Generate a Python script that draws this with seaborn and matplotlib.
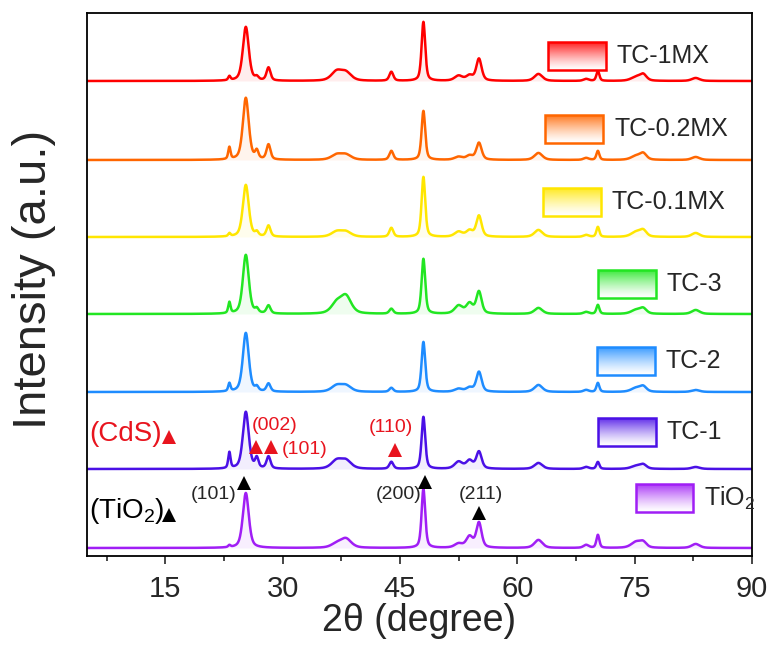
import numpy as np
import pandas as pd
import seaborn as sns
import matplotlib.pyplot as plt
import matplotlib.patches as mpatches
from matplotlib.colors import LinearSegmentedColormap

# samples, top to bottom
samples = ['TC-1MX', 'TC-0.2MX', 'TC-0.1MX', 'TC-3', 'TC-2', 'TC-1', 'TiO2']
labels = ['TC-1MX', 'TC-0.2MX', 'TC-0.1MX', 'TC-3', 'TC-2', 'TC-1', 'TiO$_2$']
colors = ['#FF0000', '#FF6600', '#FFE600', '#22E622', '#1E8CFF', '#4A10E6', '#A01EF5']
offsets = [475, 396, 319, 242, 164, 87, 8]

# reflections (2theta, fwhm)
peak_pos = [23.2, 25.3, 26.7, 28.2, 36.9, 38.1, 43.9, 48.0, 52.5, 53.9, 55.1, 62.7, 68.8, 70.3, 75.2, 76.1, 82.8]
peak_fwhm = [0.35, 0.9, 0.5, 0.6, 1.6, 1.6, 0.6, 0.55, 1.2, 1.0, 0.8, 1.2, 0.8, 0.45, 1.5, 1.0, 1.2]

# peak heights (a.u.) per sample, same order as peak_pos
h_tc1mx = [4, 54, 3, 13, 9, 8, 9, 59, 5, 5, 22, 7, 2, 10, 4, 6, 3]
h_tc02mx = [12, 62, 8, 15, 5, 5, 9, 49, 3, 4, 17, 7, 2, 9, 4, 6, 3]
h_tc01mx = [3, 52, 4, 11, 5, 5, 9, 60, 5, 6, 21, 7, 2, 10, 5, 6, 4]
h_tc3 = [11, 59, 4, 8, 10, 17, 5, 55, 8, 10, 22, 6, 2, 9, 4, 5, 4]
h_tc2 = [8, 59, 4, 8, 6, 6, 4, 50, 3, 4, 20, 7, 2, 9, 4, 5, 2]
h_tc1 = [16, 57, 10, 12, 8, 8, 7, 52, 7, 8, 17, 6, 2, 7, 3, 4, 2]
h_tio2 = [2, 55, 0, 0, 4, 9, 0, 59, 4, 11, 25, 8, 3, 13, 6, 5, 4]
heights = [h_tc1mx, h_tc02mx, h_tc01mx, h_tc3, h_tc2, h_tc1, h_tio2]

two_theta = np.arange(5, 90.01, 0.02)


def pattern(h):
    y = np.zeros_like(two_theta)
    for c, w, a in zip(peak_pos, peak_fwhm, h):
        d = (two_theta - c) ** 2 / w ** 2
        y += a * (0.5 * np.exp(-4 * np.log(2) * d) + 0.5 / (1 + 4 * d))
    return y


frames = []
for name, h, off in zip(samples, heights, offsets):
    frames.append(pd.DataFrame({'two_theta': two_theta, 'intensity': pattern(h) + off,
                                'base': off, 'sample': name}))
df = pd.concat(frames, ignore_index=True)

sns.set_style('ticks')
plt.rcParams['font.family'] = ['Liberation Sans', 'DejaVu Sans']
plt.rcParams['mathtext.fontset'] = 'custom'
plt.rcParams['mathtext.rm'] = 'Liberation Sans'
plt.rcParams['mathtext.it'] = 'Liberation Sans:italic'

fig = plt.figure(figsize=(7.74, 6.48), dpi=100)
ax = fig.add_axes([87 / 774, 1 - 556 / 648, 665 / 774, 543 / 648])

for name, col in zip(samples, colors):
    d = df[df['sample'] == name]
    ax.fill_between(d['two_theta'], d['base'], d['intensity'], color=col, alpha=0.07, lw=0)

sns.lineplot(data=df, x='two_theta', y='intensity', hue='sample', palette=dict(zip(samples, colors)),
             estimator=None, sort=False, legend=False, linewidth=1.8, ax=ax)

# legend boxes with gradient fill
box_x = [(63.9, 71.3), (63.5, 71.0), (63.3, 70.7), (70.3, 77.7), (70.2, 77.6), (70.3, 77.7), (75.2, 82.5)]
box_y = [486, 413, 340, 258, 181, 110, 44]
box_h = 28
grad = np.linspace(1, 0, 64).reshape(-1, 1)
for (x0, x1), y0, col, lab in zip(box_x, box_y, colors, labels):
    cmap = LinearSegmentedColormap.from_list('g', ['white', col])
    ax.imshow(grad ** 1.3, extent=(x0, x1, y0, y0 + box_h), cmap=cmap, vmin=0, vmax=1.15,
              aspect='auto', origin='upper', zorder=3)
    ax.add_patch(mpatches.Rectangle((x0, y0), x1 - x0, box_h, fill=False, ec=col, lw=1.8, zorder=4))
    ax.text(x1 + 1.4, y0 + box_h / 2, lab, fontsize=18, va='center', ha='left', zorder=4)

# CdS reflections
ax.text(5.25, 122, '(CdS)', color='#E8141E', fontsize=20, va='center')
ax.plot([15.5, 26.6, 28.5, 44.4], [119, 109, 109, 106], '^', color='#E8141E', ms=9.5, mew=0)
ax.text(26.0, 131, '(002)', color='#E8141E', fontsize=14, va='center')
ax.text(29.9, 107, '(101)', color='#E8141E', fontsize=14, va='center')
ax.text(41.0, 129, '(110)', color='#E8141E', fontsize=14, va='center')

# TiO2 reflections
ax.text(5.25, 45, '(TiO$_2$)', color='black', fontsize=20, va='center')
ax.plot([15.5, 25.1, 48.2, 55.1], [41, 73, 74, 43], '^', color='black', ms=9.5, mew=0)
ax.text(18.3, 62, '(101)', fontsize=14, va='center')
ax.text(41.9, 62, '(200)', fontsize=14, va='center')
ax.text(52.5, 62, '(211)', fontsize=14, va='center')

ax.set_xlim(5, 90)
ax.set_ylim(0, 543)
ax.set_xticks([15, 30, 45, 60, 75, 90])
ax.set_xticks(np.arange(7.5, 90, 15), minor=True)
ax.set_yticks([])
ax.tick_params(axis='x', which='major', direction='out', length=6, width=1.2, labelsize=21, pad=8)
ax.tick_params(axis='x', which='minor', direction='out', length=3.5, width=1.2)
for s in ax.spines.values():
    s.set_visible(True)
    s.set_linewidth(1.3)
    s.set_color('black')
ax.set_xlabel('2θ (degree)', fontsize=27, labelpad=0)
ax.set_ylabel('Intensity (a.u.)', fontsize=34)
ax.yaxis.set_label_coords(-0.047, 0.51)

fig.savefig('out.png', dpi=100)
